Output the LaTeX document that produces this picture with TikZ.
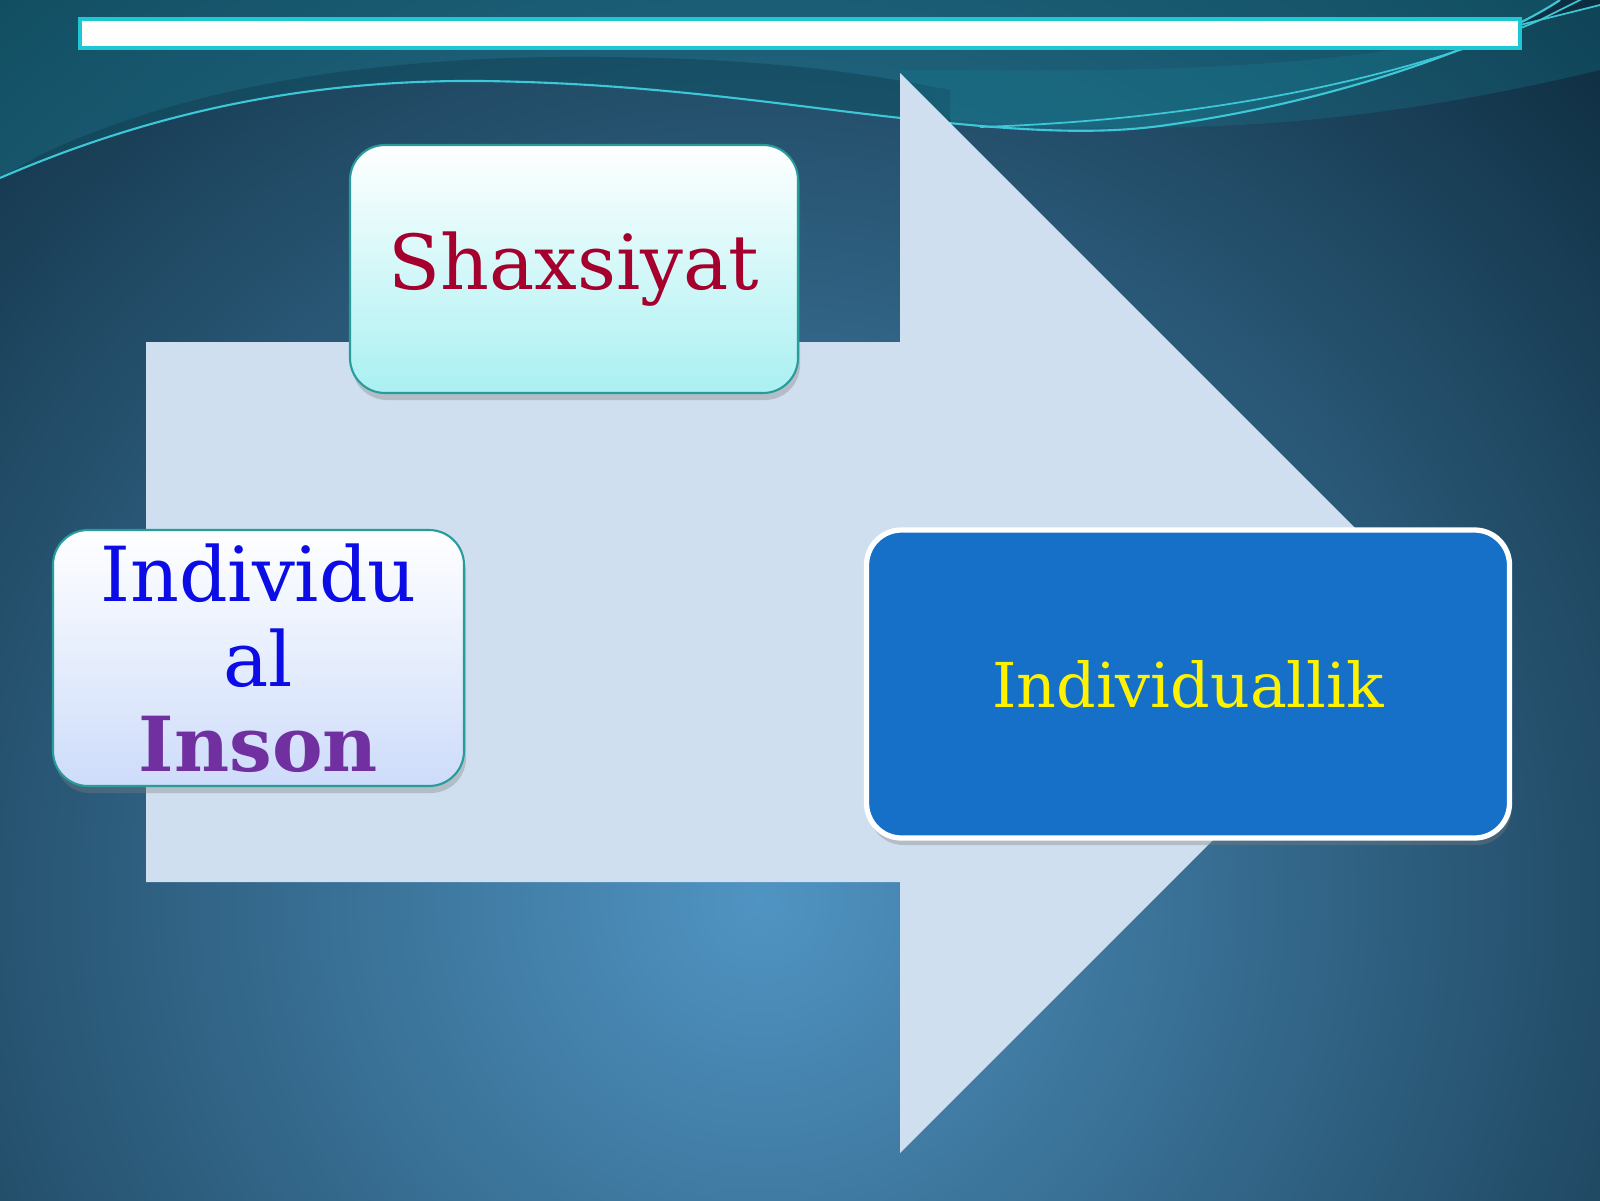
\documentclass[tikz,border=0pt]{standalone}
\usepackage{fontspec}
\setmainfont{DejaVu Serif}
\usetikzlibrary{shadows}
\definecolor{bgLight}{RGB}{80,148,195}
\definecolor{bgDark}{RGB}{12,42,60}
\definecolor{waveTeal}{RGB}{22,125,145}
\definecolor{lineCyan}{RGB}{60,200,215}
\definecolor{arrowFill}{RGB}{207,223,240}
\definecolor{barCyan}{RGB}{30,200,210}
\definecolor{boxEdge}{RGB}{40,155,155}
\definecolor{shaxCyan}{RGB}{170,240,242}
\definecolor{indLav}{RGB}{205,220,250}
\definecolor{boxBlue}{RGB}{22,112,200}
\definecolor{shaxRed}{RGB}{165,0,45}
\definecolor{indBlue}{RGB}{12,12,230}
\definecolor{insonPurple}{RGB}{112,48,160}

\begin{document}
\begin{tikzpicture}[
    box/.style={rounded corners=0.35cm, inner sep=0pt, align=center,
        drop shadow={shadow xshift=0.02cm, shadow yshift=-0.07cm, opacity=0.35}},
    bigtext/.style={font=\fontsize{21.6}{24.2}\selectfont}]
\useasboundingbox (0,0) rectangle (16,12);
\clip (0,0) rectangle (16,12);
% background
\shade [inner color=bgLight, outer color=bgDark] (7.6,3.0) circle (12.5);
\fill [waveTeal, opacity=0.4] (0,12) -- (0,10.22) .. controls (1.8,11.0) and (3.4,11.2) .. (4.8,11.19)
    .. controls (6.6,11.17) and (8,10.92) .. (9.2,10.8) .. controls (10.3,10.68) and (11,10.66) .. (11.6,10.74)
    .. controls (13.5,11.0) and (15,11.6) .. (15.6,12) -- cycle;
\fill [bgDark, opacity=0.3] (0.4,10.45) .. controls (2,11.2) and (4,11.45) .. (6,11.43)
    .. controls (7.5,11.42) and (8.5,11.3) .. (9.5,11.1) -- (9.5,10.76)
    .. controls (8,10.92) and (6.6,11.17) .. (4.8,11.19) .. controls (3.4,11.2) and (1.8,11.0) .. (0,10.22) -- cycle;
\fill [waveTeal, opacity=0.3] (9.0,11.3) .. controls (11,11.3) and (13.5,11.2) .. (16,11.95)
    -- (16,11.3) .. controls (13.5,10.7) and (11.5,10.6) .. (9.0,10.85) -- cycle;
\draw [lineCyan, line width=0.6pt] (0,10.22) .. controls (1.8,11.0) and (3.4,11.2) .. (4.8,11.19)
    .. controls (6.6,11.17) and (8,10.92) .. (9.2,10.8) .. controls (10.3,10.68) and (11,10.66) .. (11.6,10.74)
    .. controls (13.5,11.0) and (15,11.6) .. (15.6,12);
\draw [lineCyan, line width=0.5pt] (9.8,10.73) .. controls (12,10.8) and (14,11.2) .. (15.4,11.8) -- (16,12.1);
\draw [lineCyan, line width=0.5pt] (15.2,11.75) -- (16,11.95);
% big arrow
\coordinate (A) at (1.46,8.58);
\coordinate (B) at (9.00,8.58);
\coordinate (C) at (9.00,11.27);
\coordinate (T) at (14.40,5.87);
\coordinate (D) at (9.00,0.47);
\coordinate (E) at (9.00,3.18);
\coordinate (F) at (1.46,3.18);
\fill [arrowFill] (A) -- (B) -- (C) -- (T) -- (D) -- (E) -- (F) -- cycle;
% title bar
\node [draw=barCyan, fill=white, line width=1.2pt, minimum width=14.4cm, minimum height=0.29cm, inner sep=0pt] (bar) at (8.0,11.665) {};
% boxes
\node [box, bigtext, draw=boxEdge, line width=0.6pt, top color=white, middle color=white!55!shaxCyan, bottom color=shaxCyan,
    minimum width=4.48cm, minimum height=2.48cm, text=shaxRed] (Shax) at (5.74,9.31) {Shaxsiyat};
\node [box, bigtext, draw=boxEdge, line width=0.6pt, top color=white, middle color=white!70!indLav, bottom color=indLav,
    minimum width=4.11cm, minimum height=2.56cm] (Ind) at (2.585,5.42)
    {\textcolor{indBlue}{Individu}\\\textcolor{indBlue}{al}\\\textcolor{insonPurple}{\bfseries Inson}};
\node [box, draw=white, line width=1.5pt, fill=boxBlue, minimum width=6.43cm, minimum height=3.08cm,
    text=yellow, font=\fontsize{17.6}{20}\selectfont] (Indl) at (11.88,5.16) {Individuallik};
\end{tikzpicture}
\end{document}
